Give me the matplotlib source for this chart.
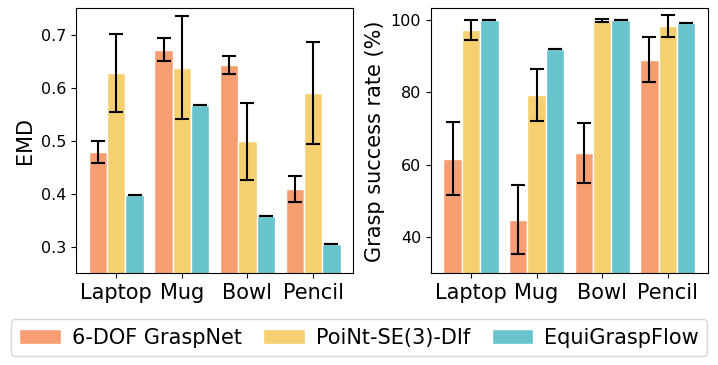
import matplotlib
matplotlib.use('Agg')
import matplotlib.pyplot as plt
import numpy as np

objects = ['Laptop', 'Mug', 'Bowl', 'Pencil']
methods = ['6-DOF GraspNet', 'PoiNt-SE(3)-DIf', 'EquiGraspFlow']
colors = ['#F79D72', '#F5CF70', '#67C4CC']

# EMD (lower is better)
emd_mean = [[0.479, 0.672, 0.643, 0.409],
            [0.628, 0.638, 0.499, 0.590],
            [0.397, 0.567, 0.359, 0.306]]
emd_err = [[0.021, 0.022, 0.017, 0.025],
           [0.074, 0.097, 0.072, 0.096],
           [0.0, 0.0, 0.0, 0.0]]

# grasp success rate (%)
succ_mean = [[61.6, 44.8, 63.3, 88.9],
             [97.1, 79.1, 99.8, 98.2],
             [99.8, 91.9, 100.0, 99.2]]
succ_err = [[10.1, 9.5, 8.3, 6.2],
            [2.7, 7.2, 0.5, 3.0],
            [0.0, 0.0, 0.0, 0.0]]


def drawBars(ax, means, errs):
    x = np.arange(len(objects))
    w = 0.28
    for i in range(len(methods)):
        ax.bar(x + (i - 1) * w, means[i], w, yerr=errs[i], color=colors[i],
               edgecolor='white', linewidth=1, label=methods[i],
               error_kw=dict(ecolor='black', elinewidth=1.5, capsize=4.7, capthick=1.5))
    ax.set_xticks(x)
    ax.set_xticklabels(objects, fontsize=15)
    ax.tick_params(axis='y', labelsize=11.5)


fig = plt.figure(figsize=(7.18, 3.65), dpi=100)
ax1 = fig.add_axes([0.106, 0.251, 0.386, 0.726])
ax2 = fig.add_axes([0.600, 0.251, 0.386, 0.726])

drawBars(ax1, emd_mean, emd_err)
ax1.set_ylim(0.25, 0.75)
ax1.set_yticks([0.3, 0.4, 0.5, 0.6, 0.7])
ax1.set_ylabel('EMD', fontsize=15)

drawBars(ax2, succ_mean, succ_err)
ax2.set_ylim(30, 103.1)
ax2.set_yticks([40, 60, 80, 100])
ax2.set_ylabel('Grasp success rate (%)', fontsize=15)

handles, labels = ax1.get_legend_handles_labels()
fig.legend(handles, labels, loc='lower center', ncol=3, fontsize=15,
           bbox_to_anchor=(0.5, 0.025), borderaxespad=0,
           handletextpad=0.5, columnspacing=1.05)

fig.savefig('out.png', dpi=100)
